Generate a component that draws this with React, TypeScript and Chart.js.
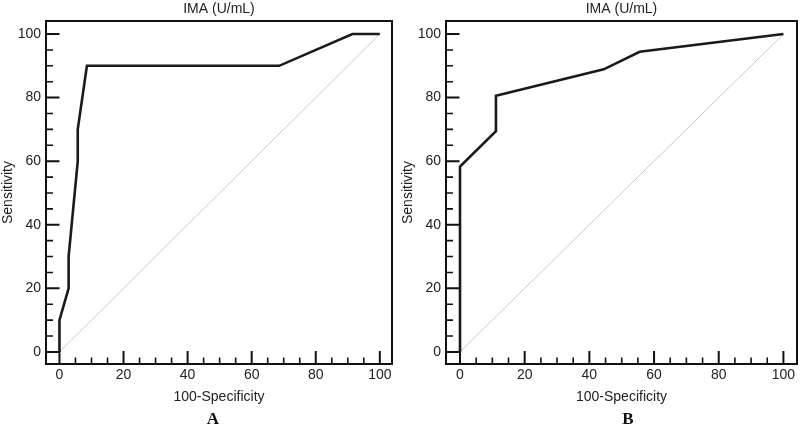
import React, { useEffect, useRef } from "react";
import { Chart, registerables } from "chart.js";

Chart.register(...registerables);

// ROC curve A: 100-Specificity (x) and Sensitivity (y)
const rocAX = [0, 0, 2.86, 2.86, 5.71, 5.71, 8.57, 68.57, 91.43, 100];
const rocAY = [0, 10, 20, 30, 60, 70, 90, 90, 100, 100];
// ROC curve B
const rocBX = [0, 0, 11.11, 11.11, 44.44, 55.56, 100];
const rocBY = [0, 58.33, 69.44, 80.56, 88.89, 94.44, 100];
// reference diagonal
const refX = [0, 100];
const refY = [0, 100];

const majorTicks = [0, 20, 40, 60, 80, 100];
const tickLabels = ["0", "20", "40", "60", "80", "100"];
const minorTicks = [5, 10, 15, 25, 30, 35, 45, 50, 55, 65, 70, 75, 85, 90, 95];

const chartTitle = "IMA (U/mL)";
const xTitle = "100-Specificity";
const yTitle = "Sensitivity";
const panelLetters = ["A", "B"];

const FONT = "'Liberation Sans', Arial, Helvetica, sans-serif";
const TEXT = "#222";

const framePlugin = {
  id: "frameTicks",
  afterDraw(chart: any, _args: any, opts: any) {
    const { ctx, chartArea } = chart;
    const xs = chart.scales.x;
    const ys = chart.scales.y;
    const { left, right, top, bottom } = chartArea;
    ctx.save();
    ctx.strokeStyle = "#111";
    ctx.lineCap = "butt";
    // major ticks
    ctx.lineWidth = 2;
    ctx.beginPath();
    majorTicks.forEach((v) => {
      const px = xs.getPixelForValue(v);
      ctx.moveTo(px, bottom);
      ctx.lineTo(px, bottom - 13);
      const py = ys.getPixelForValue(v);
      ctx.moveTo(left, py);
      ctx.lineTo(left + 13.5, py);
    });
    ctx.stroke();
    // minor ticks
    ctx.lineWidth = 1.6;
    ctx.beginPath();
    minorTicks.forEach((v) => {
      const px = xs.getPixelForValue(v);
      ctx.moveTo(px, bottom);
      ctx.lineTo(px, bottom - 6.5);
      const py = ys.getPixelForValue(v);
      ctx.moveTo(left, py);
      ctx.lineTo(left + 7, py);
    });
    ctx.stroke();
    // frame
    ctx.lineWidth = 2;
    ctx.strokeRect(left, top, right - left, bottom - top);
    // panel letter
    if (opts && opts.letter) {
      ctx.fillStyle = "#111";
      ctx.font = "bold 17px 'Liberation Serif', 'Times New Roman', serif";
      ctx.textAlign = "center";
      ctx.textBaseline = "middle";
      ctx.fillText(opts.letter, (left + right) / 2 + (opts.letterDx || 0), 420);
    }
    ctx.restore();
  },
};

type PanelProps = {
  xs: number[];
  ys: number[];
  xMin: number;
  xMax: number;
  padRight: number;
  letter: string;
  letterDx: number;
};

function Panel({ xs, ys, xMin, xMax, padRight, letter, letterDx }: PanelProps) {
  const ref = useRef<HTMLCanvasElement | null>(null);
  useEffect(() => {
    if (!ref.current) return;
    const font = { family: FONT, size: 14, weight: "normal" as const };
    const chart = new Chart(ref.current, {
      type: "scatter",
      data: {
        datasets: [
          {
            data: refX.map((x, i) => ({ x, y: refY[i] })),
            showLine: true,
            borderColor: "#c9c9c9",
            borderWidth: 1,
            pointRadius: 0,
            order: 2,
          },
          {
            data: xs.map((x, i) => ({ x, y: ys[i] })),
            showLine: true,
            borderColor: "#1a1a1a",
            borderWidth: 2.6,
            pointRadius: 0,
            tension: 0,
            order: 1,
          },
        ],
      },
      options: {
        animation: false,
        responsive: false,
        layout: { padding: { left: 0, right: padRight, top: 0, bottom: 18 } },
        plugins: {
          legend: { display: false },
          tooltip: { enabled: false },
          title: {
            display: true,
            text: chartTitle,
            fullSize: false,
            color: TEXT,
            font,
            padding: { top: 1, bottom: 3.2 },
          },
          frameTicks: { letter, letterDx },
        } as any,
        scales: {
          x: {
            type: "linear",
            min: xMin,
            max: xMax,
            grid: { display: false, drawTicks: false },
            border: { display: false },
            afterFit: (s: any) => {
              s.height = 46;
            },
            afterBuildTicks: (s: any) => {
              s.ticks = majorTicks.map((v) => ({ value: v }));
            },
            ticks: {
              color: TEXT,
              font,
              padding: 3,
              maxRotation: 0,
              autoSkip: false,
              callback: (v: any) => tickLabels[majorTicks.indexOf(Number(v))] ?? "",
            },
            title: {
              display: true,
              text: xTitle,
              color: TEXT,
              font,
              padding: { top: 0, bottom: 4 },
            },
          },
          y: {
            type: "linear",
            min: -3.8,
            max: 104.1,
            grid: { display: false, drawTicks: false },
            border: { display: false },
            afterFit: (s: any) => {
              s.width = 46;
            },
            afterBuildTicks: (s: any) => {
              s.ticks = majorTicks.map((v) => ({ value: v }));
            },
            ticks: {
              color: TEXT,
              font,
              padding: 5,
              autoSkip: false,
              callback: (v: any) => tickLabels[majorTicks.indexOf(Number(v))] ?? "",
            },
            title: {
              display: true,
              text: yTitle,
              color: TEXT,
              font,
              padding: { top: 0, bottom: 0 },
            },
          },
        },
      } as any,
      plugins: [framePlugin as any],
    });
    return () => chart.destroy();
  }, [xs, ys, xMin, xMax, padRight, letter, letterDx]);
  return <canvas ref={ref} width={400} height={428} style={{ display: "block", width: 400, height: 428 }} />;
}

export default function App() {
  return (
    <div
      style={{
        position: "fixed",
        left: 0,
        top: 0,
        width: 800,
        height: 428,
        display: "flex",
        background: "#ffffff",
      }}
    >
      <Panel xs={rocAX} ys={rocAY} xMin={-4.2} xMax={103.8} padRight={8} letter={panelLetters[0]} letterDx={-6} />
      <Panel xs={rocBX} ys={rocBY} xMin={-4.33} xMax={104.2} padRight={3} letter={panelLetters[1]} letterDx={6.5} />
    </div>
  );
}
